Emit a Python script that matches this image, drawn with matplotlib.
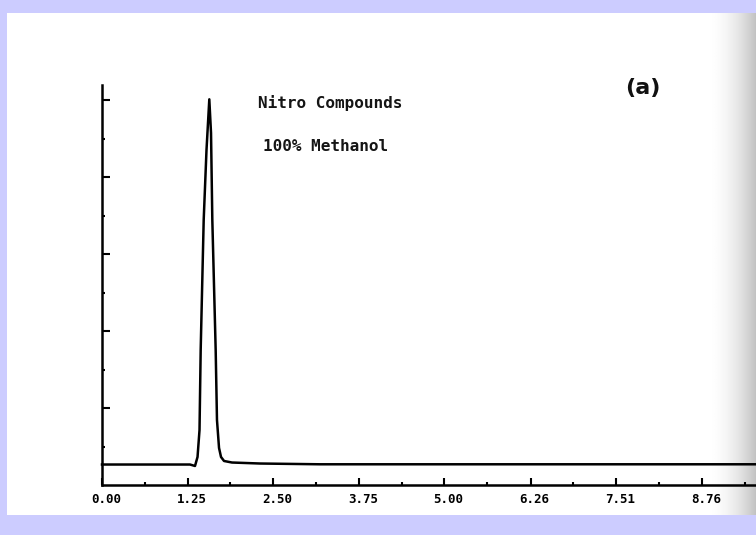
import numpy as np
import matplotlib
matplotlib.use("Agg")
import matplotlib.pyplot as plt
from matplotlib.patches import Rectangle
from matplotlib.ticker import FixedLocator
import matplotlib.transforms as mtransforms

# --- data ---
time_min = [0.00, 1.285, 1.358, 1.395, 1.424, 1.441, 1.485, 1.526, 1.567,
            1.592, 1.611, 1.660, 1.679, 1.709, 1.738, 1.782, 1.898, 2.307,
            3.183, 9.60]
signal = [0.266, 0.266, 0.247, 0.364, 0.714, 1.753, 3.442, 4.351, 5.009,
          4.571, 3.442, 1.753, 0.844, 0.481, 0.364, 0.312, 0.292, 0.279,
          0.269, 0.269]

xtick_vals = [0.00, 1.25, 2.50, 3.75, 5.00, 6.26, 7.51, 8.76]
xtick_labels = ["0.00", "1.25", "2.50", "3.75", "5.00", "6.26", "7.51", "8.76"]
ytick_vals = [1, 2, 3, 4, 5]

title_line1 = "Nitro Compounds"
title_line2 = "100% Methanol"
panel_tag = "(a)"

W, H = 756, 535
fig = plt.figure(figsize=(W / 100, H / 100), dpi=100)
fig.patch.set_facecolor("#ccccff")

# white scanned page
fig.patches.append(Rectangle((7 / W, (H - 515) / H), 1 - 7 / W, (515 - 13) / H,
                             transform=fig.transFigure, facecolor="white",
                             edgecolor="none", zorder=0))

# grey shadow along the right edge of the scan
sh = fig.add_axes([706 / W, (H - 515) / H, 50 / W, (515 - 13) / H], zorder=0.5)
t = np.linspace(0, 1, 80)
grad = (1.0 - 0.24 * t ** 2)[None, :]
sh.imshow(np.repeat(grad, 10, axis=0), cmap="gray", vmin=0, vmax=1,
          aspect="auto", interpolation="bilinear")
sh.axis("off")

ax = fig.add_axes([102 / W, (H - 485) / H, 1 - 102 / W, 400 / H], zorder=1)
ax.patch.set_alpha(0)
ax.plot(time_min, signal, color="black", lw=1.8, solid_joinstyle="round",
        clip_on=False)

ax.set_xlim(0, (756 - 102) / 85.6 * 1.25)
ax.set_ylim(0, 400 / 77)

for s in ["top", "right"]:
    ax.spines[s].set_visible(False)
for s in ["left", "bottom"]:
    ax.spines[s].set_linewidth(1.8)
    ax.spines[s].set_color("black")

ax.xaxis.set_major_locator(FixedLocator(xtick_vals))
ax.xaxis.set_minor_locator(FixedLocator([v + 0.625 for v in xtick_vals]))
ax.set_xticklabels(xtick_labels)
ax.yaxis.set_major_locator(FixedLocator(ytick_vals))
ax.yaxis.set_minor_locator(FixedLocator([v - 0.5 for v in ytick_vals]))
ax.set_yticklabels([])

ax.tick_params(axis="x", which="major", direction="in", length=5, width=1.5,
               pad=6)
ax.tick_params(axis="x", which="minor", direction="in", length=2.2, width=1.5)
ax.tick_params(axis="y", which="major", direction="in", length=5.8, width=1.5)
ax.tick_params(axis="y", which="minor", direction="in", length=2.2, width=1.5)

shift = mtransforms.ScaledTranslation(4 / 100, 0, fig.dpi_scale_trans)
for lab in ax.get_xticklabels():
    lab.set_fontfamily("DejaVu Sans Mono")
    lab.set_fontweight("bold")
    lab.set_fontsize(9)
    lab.set_transform(lab.get_transform() + shift)

fig.text(258 / W, 1 - 102.7 / H, title_line1, family="DejaVu Sans Mono",
         fontsize=11.5, fontweight="bold", ha="left", va="center",
         color="#151515")
fig.text(263 / W, 1 - 146.7 / H, title_line2, family="DejaVu Sans Mono",
         fontsize=11.5, fontweight="bold", ha="left", va="center",
         color="#151515")
fig.text(643 / W, 1 - 88 / H, panel_tag, family="DejaVu Sans", fontsize=16,
         fontweight="bold", ha="center", va="center", color="#111111")

fig.savefig("out.png", dpi=100, facecolor=fig.get_facecolor())
